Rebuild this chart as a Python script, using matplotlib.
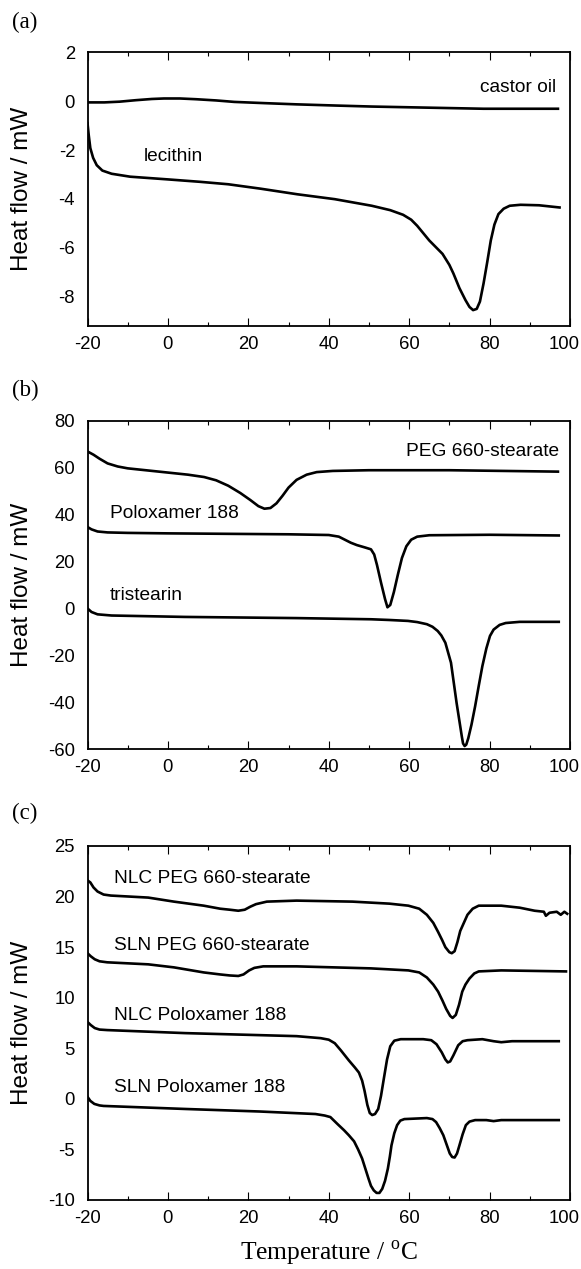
import matplotlib
matplotlib.use("Agg")
import matplotlib.pyplot as plt
from matplotlib.ticker import MultipleLocator
from matplotlib.transforms import ScaledTranslation

plt.rcParams['font.family'] = ['Liberation Sans', 'DejaVu Sans']
plt.rcParams['mathtext.fontset'] = 'custom'
plt.rcParams['mathtext.rm'] = 'Liberation Serif'
plt.rcParams['axes.unicode_minus'] = False

# ---------------- Panel (a) ----------------
castor_T = [-20, -15.8, -12, -8, -4, -1, 3, 7, 12, 16.5, 24, 32, 42, 50.7, 60, 69.2, 78.5, 88, 97]
castor_v = [-0.05, -0.05, -0.02, 0.04, 0.09, 0.11, 0.11, 0.08, 0.03, -0.03, -0.08, -0.13, -0.18, -0.22, -0.25, -0.28, -0.31, -0.31, -0.31]

lecithin_T = [-20, -19.7, -19.3, -18.6, -17.7, -16.3, -14, -9.4, -0.1, 8, 15, 23, 32.2, 41.5,
              50.7, 55.3, 58.5, 60.5, 62, 63.5, 65, 66.5, 68.3, 70, 71, 72.5, 74, 75, 75.9, 76.8, 77.6,
              78.5, 79.4, 80.3, 81.2, 82.2, 83.5, 85, 87.7, 92.3, 97.4]
lecithin_v = [-0.9, -1.38, -1.92, -2.32, -2.62, -2.84, -2.97, -3.09, -3.2, -3.3, -3.4, -3.58, -3.81, -4.01,
              -4.28, -4.46, -4.65, -4.85, -5.1, -5.4, -5.7, -5.95, -6.25, -6.7, -7.05, -7.65, -8.14, -8.42, -8.55, -8.5, -8.2,
              -7.46, -6.6, -5.7, -5.05, -4.62, -4.4, -4.28, -4.24, -4.26, -4.35]

# ---------------- Panel (b) ----------------
peg_T = [-20, -18.5, -17, -15, -12.5, -10, -5, 0, 5, 9, 12, 15, 18, 20.5, 22.5, 24, 25.5, 27, 28.5,
         30, 32, 34.5, 37, 41, 50, 70, 97]
peg_v = [66.9, 65.5, 63.8, 61.8, 60.5, 59.7, 58.8, 57.9, 57, 56, 54.6, 52.3, 49.2, 46.2, 43.6, 42.5, 42.8, 44.8, 48,
         51.5, 54.8, 57, 58.1, 58.6, 58.9, 58.9, 58.3]

polox_T = [-20, -19, -17.5, -15, -10, 0, 15, 30, 40, 42.5, 44, 45.5, 47, 49, 50.5, 51.3, 52, 53, 54, 54.6,
           55.3, 56.2, 57.2, 58.2, 59.3, 60.5, 62, 65, 80, 97.2]
polox_v = [34.7, 33.7, 32.8, 32.4, 32.2, 32.0, 31.8, 31.6, 31.3, 30.6, 29.3, 28, 27, 26, 25.2, 23, 18.5, 11, 4, 0.5,
           1.5, 7, 14.5, 21.5, 26.5, 29.3, 30.6, 31.2, 31.4, 31.1]

trist_T = [-20, -19, -17.5, -14, 4.2, 32, 50.5, 55, 59.7, 62, 64.4, 65.8, 67.1, 68, 69, 70.4, 71.8, 72.5, 73.1,
           73.4, 73.8, 74.2, 74.7, 75.5, 76.4, 77.3, 78.2, 79.2, 80.1, 81, 82.5, 84, 87.5, 97.2]
trist_v = [0, -1.5, -2.5, -3.0, -3.6, -4.1, -4.6, -4.9, -5.3, -5.8, -6.7, -7.8, -9.6, -11.5, -14.6, -23.1, -40.3, -48, -54.6,
           -57.5, -58.6, -58, -55.3, -49.5, -41.7, -33, -24.6, -17, -11.7, -9, -7, -6.2, -5.7, -5.7]

# ---------------- Panel (c) ----------------
nlc_peg_T = [-20, -19.3, -18.5, -17.5, -16, -14.2, -4.9, 1.5, 8.9, 13, 15.4, 17.5, 19.1, 20.5, 21.9, 24.6, 32, 45.9,
             55.1, 59.8, 62.5, 64.4, 66, 67.2, 68.2, 69, 70, 70.6, 71.3, 72, 72.7, 73.6, 74.5, 75.8, 77.3, 82.9,
             87.5, 91.2, 93.5, 94, 94.9, 96.7, 97.7, 98.6, 99.3]
nlc_peg_v = [21.6, 21.4, 20.9, 20.5, 20.2, 20.1, 19.9, 19.5, 19.1, 18.8, 18.7, 18.6, 18.7, 19.0, 19.25, 19.5, 19.6, 19.5,
             19.3, 19.1, 18.8, 18.2, 17.4, 16.5, 15.7, 15.0, 14.5, 14.4, 14.6, 15.5, 16.6, 17.4, 18.2, 18.8, 19.1, 19.1,
             18.9, 18.6, 18.5, 18.1, 18.4, 18.5, 18.2, 18.5, 18.3]

sln_peg_T = [-20, -19.2, -18.2, -17, -15.1, -4.9, 1.5, 8.9, 13, 15.4, 17.5, 18.8, 20.2, 21.5, 23.7, 32, 50.5, 59.8,
             62.5, 64.4, 66, 67.2, 68.3, 69.2, 70.2, 70.8, 71.6, 72.4, 73.2, 74, 75, 76.2, 77.3, 82.9, 99]
sln_peg_v = [14.4, 14.1, 13.8, 13.6, 13.5, 13.3, 13, 12.5, 12.3, 12.2, 12.15, 12.3, 12.7, 12.95, 13.1, 13.1, 12.9, 12.7,
             12.5, 12.0, 11.3, 10.6, 9.7, 8.9, 8.2, 8.0, 8.3, 9.3, 10.6, 11.3, 11.9, 12.4, 12.6, 12.7, 12.6]

nlc_pol_T = [-20, -19.2, -18.2, -17, -15.1, 4.3, 32, 38, 40, 41.5, 43, 45, 46.5, 47.5, 48.3, 48.9, 49.6, 50.2, 50.8,
             51.5, 52.3, 53, 53.7, 54.5, 55.3, 56.3, 57.9, 63.5, 65.5, 66.8, 68.1, 69, 69.6, 70.2, 71, 72.2,
             73.3, 74.5, 78.2, 81, 82.9, 85.6, 97.2]
nlc_pol_v = [7.6, 7.3, 7.0, 6.85, 6.8, 6.5, 6.2, 6.0, 5.85, 5.5, 4.8, 3.8, 3.1, 2.6, 1.8, 0.8, -0.6, -1.4, -1.6,
             -1.5, -1.0, 0.3, 2.0, 3.9, 5.2, 5.75, 5.9, 5.9, 5.8, 5.4, 4.6, 3.9, 3.6, 3.7, 4.3, 5.3,
             5.7, 5.8, 5.9, 5.7, 5.6, 5.7, 5.7]

sln_pol_T = [-20, -19.3, -18.3, -17, -16, 4.3, 22.8, 36.7, 39, 40.4, 42.2, 43.8, 45, 46.3, 47.3, 48.3, 49.1, 49.9,
             50.5, 51.2, 51.9, 52.6, 53.3, 54, 54.7, 55.2, 55.6, 56.3, 57, 57.8, 58.8, 64.4, 65.8, 66.7, 67.6,
             68.5, 69.3, 70.1, 70.7, 71.3, 71.9, 72.5, 73.3, 74.1, 75, 76.4, 79.2, 81, 82.9, 97.2]
sln_pol_v = [0.2, -0.2, -0.5, -0.65, -0.7, -1.0, -1.25, -1.5, -1.65, -1.8, -2.5, -3.1, -3.6, -4.2, -5.0, -5.9, -6.9, -7.9,
             -8.6, -9.05, -9.3, -9.3, -8.9, -8.1, -6.9, -5.7, -4.6, -3.4, -2.6, -2.15, -2.0, -1.9, -2.0, -2.3, -2.9,
             -3.6, -4.5, -5.4, -5.75, -5.8, -5.4, -4.6, -3.5, -2.6, -2.25, -2.1, -2.1, -2.2, -2.1, -2.1]

x_ticks = [-20, 0, 20, 40, 60, 80, 100]

W, H = 581, 1269
fig = plt.figure(figsize=(W / 100, H / 100), dpi=100)


def make_ax(top_px, bot_px):
    left, right = 87.5, 570
    ax = fig.add_axes([left / W, 1 - bot_px / H, (right - left) / W, (bot_px - top_px) / H])
    ax.set_xlim(-20, 100)
    ax.set_xticks(x_ticks)
    ax.xaxis.set_minor_locator(MultipleLocator(10))
    ax.tick_params(axis='x', which='both', direction='in', top=True, bottom=True,
                   labelsize=13.3, pad=7, width=0.8)
    ax.tick_params(axis='x', which='major', length=5.8)
    ax.tick_params(axis='x', which='minor', length=2.9)
    ax.tick_params(axis='y', length=0, pad=9, labelsize=13.3)
    for s in ax.spines.values():
        s.set_linewidth(1.3)
    return ax


def shift_last_label(ax):
    fig.canvas.draw()
    lab = ax.get_xticklabels()[-1]
    lab.set_transform(lab.get_transform() + ScaledTranslation(-5.5 / 100, 0, fig.dpi_scale_trans))


lw = 1.9
# (a)
axa = make_ax(52.3, 326)
axa.plot(castor_T, castor_v, color='black', lw=lw)
axa.plot(lecithin_T, lecithin_v, color='black', lw=lw)
axa.set_ylim(-9.2, 2)
axa.set_yticks([-8, -6, -4, -2, 0, 2])
axa.text(96.5, 0.58, 'castor oil', ha='right', va='center', fontsize=13.8)
axa.text(-6.1, -2.26, 'lecithin', ha='left', va='center', fontsize=13.8)

# (b)
axb = make_ax(420.7, 749.3)
axb.plot(peg_T, peg_v, color='black', lw=lw)
axb.plot(polox_T, polox_v, color='black', lw=lw)
axb.plot(trist_T, trist_v, color='black', lw=lw)
axb.set_ylim(-60, 80)
axb.set_yticks([-60, -40, -20, 0, 20, 40, 60, 80])
axb.text(97.2, 67.0, 'PEG 660-stearate', ha='right', va='center', fontsize=13.8)
axb.text(-14.4, 40.4, 'Poloxamer 188', ha='left', va='center', fontsize=13.8)
axb.text(-14.4, 5.4, 'tristearin', ha='left', va='center', fontsize=13.8)

# (c)
axc = make_ax(846, 1200)
axc.plot(nlc_peg_T, nlc_peg_v, color='black', lw=lw)
axc.plot(sln_peg_T, sln_peg_v, color='black', lw=lw)
axc.plot(nlc_pol_T, nlc_pol_v, color='black', lw=lw)
axc.plot(sln_pol_T, sln_pol_v, color='black', lw=lw)
axc.set_ylim(-10, 25)
axc.set_yticks([-10, -5, 0, 5, 10, 15, 20, 25])
axc.text(-13.3, 21.8, 'NLC PEG 660-stearate', ha='left', va='center', fontsize=13.8)
axc.text(-13.3, 15.2, 'SLN PEG 660-stearate', ha='left', va='center', fontsize=13.8)
axc.text(-13.3, 8.25, 'NLC Poloxamer 188', ha='left', va='center', fontsize=13.8)
axc.text(-13.3, 1.15, 'SLN Poloxamer 188', ha='left', va='center', fontsize=13.8)

for ax in (axa, axb, axc):
    shift_last_label(ax)

# y labels
for top_px, bot_px in [(52.3, 326), (420.7, 749.3), (846, 1200)]:
    fig.text(22 / W, 1 - (top_px + bot_px) / 2 / H, 'Heat flow / mW', rotation=90,
             ha='center', va='center', fontsize=17.5)

# panel labels
for lab, ypx in [('(a)', 22), ('(b)', 390), ('(c)', 813)]:
    fig.text(12 / W, 1 - ypx / H, lab, ha='left', va='center', fontsize=16.5,
             family='Liberation Serif')

# x label
fig.text(328.7 / W, 1 - 1253 / H, r'Temperature / $^{\mathrm{o}}$C', ha='center', va='center',
         fontsize=18.4, family='Liberation Serif')

fig.savefig('out.png', dpi=100)
